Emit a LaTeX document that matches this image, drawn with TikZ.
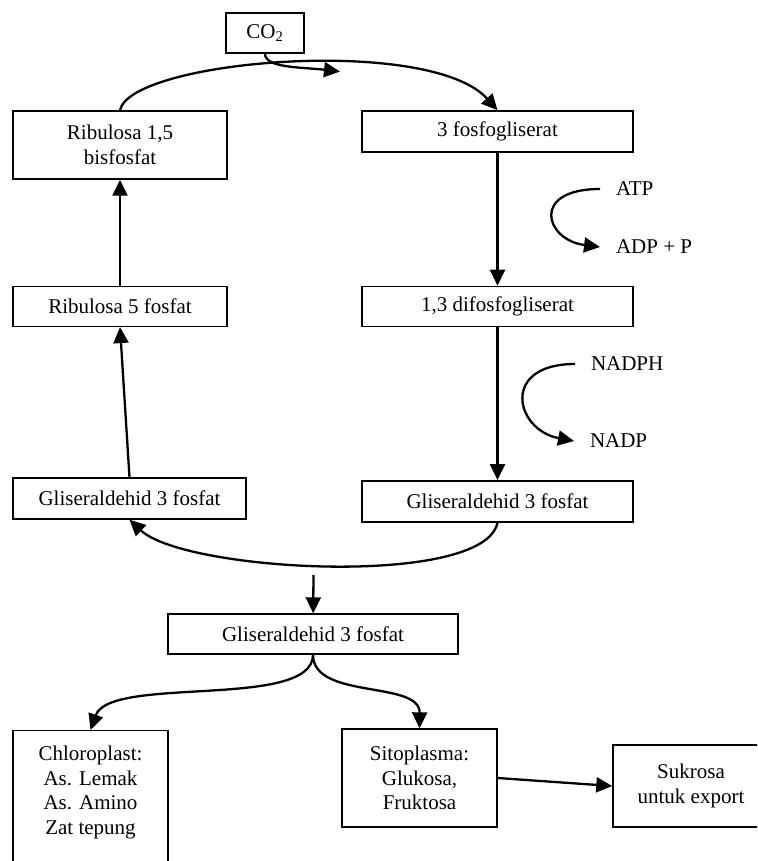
\documentclass[tikz,border=0pt]{standalone}
\usepackage{fontspec}
\setmainfont{Liberation Serif}
\usetikzlibrary{arrows.meta,positioning}

\begin{document}
\begin{tikzpicture}[x=1pt, y=-1pt, >={Triangle[length=16pt,width=15pt]},
        box/.style={draw, line width=1.4pt, inner sep=2pt, align=center, font=\fontsize{21}{24.5}\selectfont},
        side/.style={inner sep=0pt, outer xsep=16pt, anchor=west, font=\fontsize{21}{24.5}\selectfont},
        flow/.style={->, line width=2.3pt}]
        \useasboundingbox (0,0) rectangle (757,861);
        \clip (0,0) rectangle (757,861);

        % Calvin cycle
        \node[box, minimum width=78pt, minimum height=40pt] (co2) at (265,33) {CO\textsubscript{2}};
        \node[box, minimum width=214pt, minimum height=68pt] (rubp) at (120,145) {Ribulosa 1,5\\bisfosfat};
        \node[box, minimum width=271pt, minimum height=41pt] (pga) at (497.5,131.5) {3 fosfogliserat};
        \node[box, minimum width=271pt, minimum height=40pt, below=133pt of pga] (dpga) {1,3 difosfogliserat};
        \node[box, minimum width=271pt, minimum height=41pt, below=153pt of dpga] (galR) {Gliseraldehid 3 fosfat};
        \node[box, minimum width=214pt, minimum height=40pt, below=106pt of rubp] (ru5p) {Ribulosa 5 fosfat};
        \node[box, minimum width=233pt, minimum height=41pt] (galL) at (129.5,498.5) {Gliseraldehid 3 fosfat};

        % Energy
        \node[side] (atp) at (600,189) {ATP};
        \node[side] (adp) at (600,247) {ADP + P};
        \node[side] (nadph) at (575,364) {NADPH};
        \node[side] (nadp) at (574,441) {NADP};

        % Products
        \node[box, minimum width=290pt, minimum height=40pt] (galC) at (313,634) {Gliseraldehid 3 fosfat};
        \node[box, minimum width=155pt, inner ysep=15.5pt, anchor=north] (chl) at (90.5,730) {Chloroplast:\\As. Lemak\\As. Amino\\Zat tepung\\\mbox{}};
        \node[box, minimum width=155pt, minimum height=98pt] (sito) at (419.5,778) {Sitoplasma:\\Glukosa,\\Fruktosa};
        \node[box, minimum width=156pt, minimum height=82pt] (suk) at (691,786) {Sukrosa\\untuk export};

        \coordinate (co2in) at (340,71.5);
        \coordinate (split) at (313.5,575);

        % Arrows
        \draw[flow] (rubp.north) .. controls (130,60) and (430,35) .. (pga.north);
        \draw[flow] (co2.south) .. controls (265,68) and (300,67) .. (co2in);
        \draw[flow] (pga) -- (dpga);
        \draw[flow] (dpga) -- (galR);
        \draw[flow] (atp.west) .. controls (530,189) and (545,240) .. (adp.west);
        \draw[flow] (nadph.west) .. controls (500,364) and (515,430) .. (nadp.west);
        \draw[flow] (galR.south) .. controls (485,588) and (185,572) .. (galL.south);
        \draw[flow] (galL.north) -- (ru5p.south);
        \draw[flow] (ru5p) -- (rubp);
        \draw[flow] (split) -- (galC);
        \draw[flow] (galC.south) .. controls (313,710) and (110,675) .. (chl.north);
        \draw[flow] (galC.south) .. controls (313,700) and (420,680) .. (sito.north);
        \draw[flow] (sito.east) -- (suk.west);
\end{tikzpicture}
\end{document}
